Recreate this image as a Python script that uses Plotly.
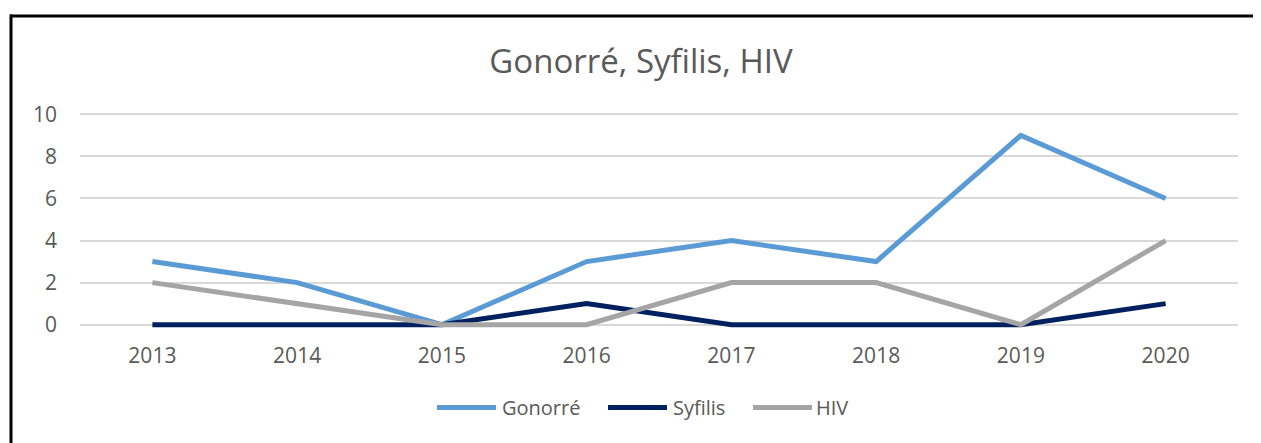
import plotly.graph_objects as go

years = ["2013", "2014", "2015", "2016", "2017", "2018", "2019", "2020"]
gonorre = [3, 2, 0, 3, 4, 3, 9, 6]
syfilis = [0, 0, 0, 1, 0, 0, 0, 1]
hiv = [2, 1, 0, 0, 2, 2, 0, 4]

series = [
    ("Gonorré", gonorre, "#5B9BD5"),
    ("Syfilis", syfilis, "#002060"),
    ("HIV", hiv, "#A5A5A5"),
]

OFF = 8  # default page body margin
W, H = 1261 - OFF, 443 - OFF
L, R = 80 - OFF, 1238 - OFF
y_top_px, y_bot_px = 114 - OFF, 325 - OFF  # pixel positions of y=10 and y=0
pad = 0.3
ppu = (y_bot_px - y_top_px) / 10.0
T = y_top_px - pad * ppu
B = y_bot_px + pad * ppu

px = lambda x: (x - OFF - L) / (R - L)
py = lambda y: (B - (y - OFF)) / (B - T)

fig = go.Figure()
for name, vals, col in series:
    fig.add_trace(go.Scatter(x=years, y=vals, mode="lines", name=name,
                             line=dict(color=col, width=5, shape="linear"),
                             cliponaxis=False, showlegend=False))

font_fam = "Open Sans, Noto Sans, sans-serif"
grey = "#595959"
fig.update_layout(
    width=W, height=H,
    paper_bgcolor="white", plot_bgcolor="white",
    margin=dict(l=L, r=W - R, t=T, b=H - B, pad=0, autoexpand=False),
    title=dict(text="Gonorré, Syfilis, HIV", x=(641 - OFF) / W, xref="container",
               xanchor="center", y=1 - (61 - OFF) / H, yref="container", yanchor="middle",
               font=dict(family=font_fam, size=33, color=grey)),
    xaxis=dict(type="category", range=[-0.5, 7.5], showgrid=False, zeroline=False,
               showline=False, ticks="", ticklabelstandoff=10,
               tickfont=dict(family=font_fam, size=21, color=grey)),
    yaxis=dict(range=[-pad, 10 + pad], tickvals=[0, 2, 4, 6, 8, 10], showgrid=True,
               gridcolor="#D9D9D9", gridwidth=1.5, zeroline=False, showline=False,
               ticks="", ticklabelstandoff=22,
               tickfont=dict(family=font_fam, size=21, color=grey)),
    showlegend=False,
)

# legend drawn as line samples + labels
leg_pos = [(437, 496, 500), (608, 667, 671), (753, 812, 814)]
for (name, _, col), (x0, x1, xt) in zip(series, leg_pos):
    fig.add_shape(type="line", xref="paper", yref="paper", x0=px(x0), x1=px(x1),
                  y0=py(408), y1=py(408), line=dict(color=col, width=5))
    fig.add_annotation(text=name, xref="paper", yref="paper", x=px(xt), y=py(408),
                       xanchor="left", yanchor="middle", showarrow=False,
                       font=dict(family=font_fam, size=20, color=grey))

# chart frame (top and left edges)
fig.add_shape(type="line", xref="paper", yref="paper", x0=px(10), x1=px(1270),
              y0=py(15.5), y1=py(15.5), line=dict(color="black", width=3))
fig.add_shape(type="line", xref="paper", yref="paper", x0=px(11), x1=px(11),
              y0=py(14), y1=py(460), line=dict(color="black", width=3))

fig.write_html("out.html")
